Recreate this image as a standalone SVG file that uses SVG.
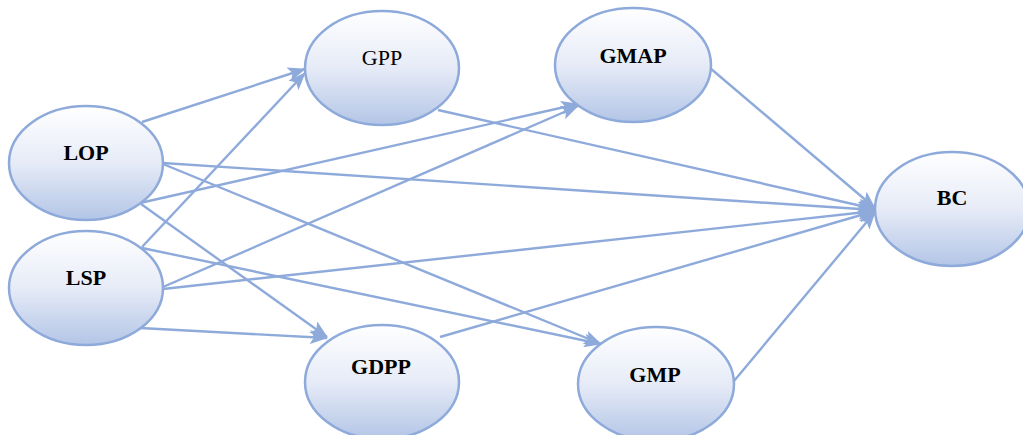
<svg xmlns="http://www.w3.org/2000/svg" width="1023" height="435" viewBox="0 0 1023 435">
<style>
.node ellipse{fill:url(#g);stroke:#8eaadb;stroke-width:2.5}
.node text{font-family:"Liberation Serif","Times New Roman",serif;font-size:22px;text-anchor:middle;fill:#000;font-weight:bold}
.node text.reg{font-weight:normal}
#edges line{stroke:#8eaadb;stroke-width:2.4;fill:none}
#edges line.a{marker-end:url(#arr)}
</style>
<defs>
<linearGradient id="g" x1="0" y1="0" x2="0" y2="1">
<stop offset="0" stop-color="#ffffff"/>
<stop offset="0.5" stop-color="#e6ebf7"/>
<stop offset="1" stop-color="#b3c5e6"/>
</linearGradient>
<marker id="arr" viewBox="0 0 18 14" refX="17" refY="7" markerWidth="18" markerHeight="14" markerUnits="userSpaceOnUse" orient="auto">
<path d="M0,0 L18,7 L0,14 L4,7 Z" fill="#8eaadb"/>
</marker>
</defs>
<rect width="1023" height="435" fill="#ffffff"/>
<g id="edges">
<line class="a" x1="142" y1="122" x2="305" y2="69"/>
<line class="a" x1="142" y1="247" x2="305" y2="73"/>
<line class="a" x1="163" y1="163" x2="875" y2="210"/>
<line class="a" x1="163" y1="164" x2="601" y2="344"/>
<line class="a" x1="140" y1="203" x2="578" y2="104"/>
<line class="a" x1="141" y1="204" x2="327" y2="337"/>
<line class="a" x1="163" y1="287" x2="578" y2="106"/>
<line class="a" x1="163" y1="289" x2="875" y2="211"/>
<line class="a" x1="142" y1="248" x2="601" y2="344"/>
<line class="a" x1="140" y1="328" x2="327" y2="338"/>
<line class="a" x1="438" y1="110" x2="875" y2="209"/>
<line class="a" x1="710" y1="68" x2="875" y2="208"/>
<line class="a" x1="440" y1="337" x2="875" y2="211"/>
<line class="a" x1="734" y1="381" x2="875" y2="212"/>
</g>
<g id="LOP" class="node"><ellipse cx="86" cy="163" rx="77" ry="57"/><text x="86" y="160">LOP</text></g>
<g id="LSP" class="node"><ellipse cx="86" cy="288" rx="77" ry="57"/><text x="86" y="285">LSP</text></g>
<g id="GPP" class="node"><ellipse cx="382" cy="68" rx="77" ry="57"/><text class="reg" x="382" y="65">GPP</text></g>
<g id="GMAP" class="node"><ellipse cx="633" cy="65" rx="78" ry="57"/><text x="633" y="63">GMAP</text></g>
<g id="BC" class="node"><ellipse cx="952" cy="209" rx="77" ry="57"/><text x="952" y="205">BC</text></g>
<g id="GDPP" class="node"><ellipse cx="382" cy="382" rx="77" ry="57"/><text x="381" y="374">GDPP</text></g>
<g id="GMP" class="node"><ellipse cx="656" cy="384" rx="78" ry="57"/><text x="655" y="382">GMP</text></g>
</svg>
